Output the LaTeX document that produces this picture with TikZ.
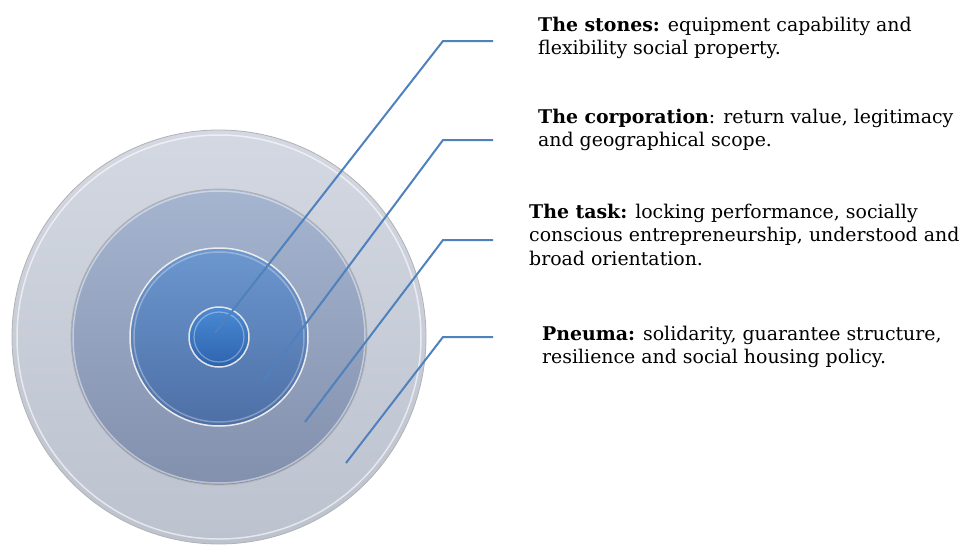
\documentclass[tikz,border=0pt]{standalone}
\usepackage{fontspec}
\setmainfont{DejaVu Serif}
\usetikzlibrary{calc}
\definecolor{lineblue}{HTML}{4F81BD}
\definecolor{ringA}{HTML}{D3D8E2}
\definecolor{ringAb}{HTML}{BCC2CE}
\definecolor{ringB}{HTML}{A5B4CF}
\definecolor{ringBb}{HTML}{8290AD}
\definecolor{ringC}{HTML}{6C97CF}
\definecolor{ringCb}{HTML}{4D6FA6}
\definecolor{ringD}{HTML}{4A8AD4}
\definecolor{ringDb}{HTML}{2E63AE}
\tikzset{
  disc/.style={circle, inner sep=0pt, draw=gray!60, line width=0.8pt},
  rim/.style={draw=white, draw opacity=0.6, line width=1.5pt},
  leader/.style={draw=lineblue, line width=2pt},
  label/.style={anchor=base west, align=left, inner sep=0pt, font=\fontsize{18.9}{23.5}\selectfont, text=black},
}
\begin{document}
\begin{tikzpicture}[x=1pt, y=-1pt]
\useasboundingbox (0,0) rectangle (963,544);
\coordinate (c) at (219,337);
% outer ring
\node[disc, minimum size=414pt, top color=ringA, bottom color=ringAb] (r1) at (c) {};
\draw[rim] (c) circle (202);
% second ring
\node[disc, minimum size=296pt, top color=ringB, bottom color=ringBb] (r2) at (c) {};
\draw[rim, draw opacity=0.45] (c) circle (146);
% third ring
\node[disc, minimum size=178pt, top color=ringC, bottom color=ringCb, draw=white!85!gray, line width=1.5pt] (r3) at (c) {};
\draw[rim, draw opacity=0.3] (c) circle (85);
% inner disc
\node[disc, minimum size=60pt, top color=ringD, bottom color=ringDb, draw=white!80!gray, line width=1.5pt] (r4) at (c) {};
\draw[white, opacity=0.35, line width=1.2pt] (c) circle (25);
% leader end points
\coordinate (e1) at (215,333);
\coordinate (e2) at (263,381);
\coordinate (e3) at (305,422);
\coordinate (e4) at (346,463);
\coordinate (k1) at (443,41);
\coordinate (k2) at (443,140);
\coordinate (k3) at (443,240);
\coordinate (k4) at (443,337);
\coordinate (h1) at (493,41);
\coordinate (h2) at (493,140);
\coordinate (h3) at (493,240);
\coordinate (h4) at (493,337);
\draw[leader] (e1) -- (k1) -- (h1);
\draw[leader] (e2) -- (k2) -- (h2);
\draw[leader] (e3) -- (k3) -- (h3);
\draw[leader] (e4) -- (k4) -- (h4);
% labels (anchor = baseline of last line)
\node[label] (t1) at (538,54.5) {\textbf{The stones:} equipment capability and\\flexibility social property.};
\node[label] (t2) at (538,146.5) {\textbf{The corporation}: return value, legitimacy\\and geographical scope.};
\node[label] (t3) at (529,265) {\textbf{The task:} locking performance, socially\\conscious entrepreneurship, understood and\\broad orientation.};
\node[label] (t4) at (542,363.5) {\textbf{Pneuma:} solidarity, guarantee structure,\\resilience and social housing policy.};
\end{tikzpicture}
\end{document}
